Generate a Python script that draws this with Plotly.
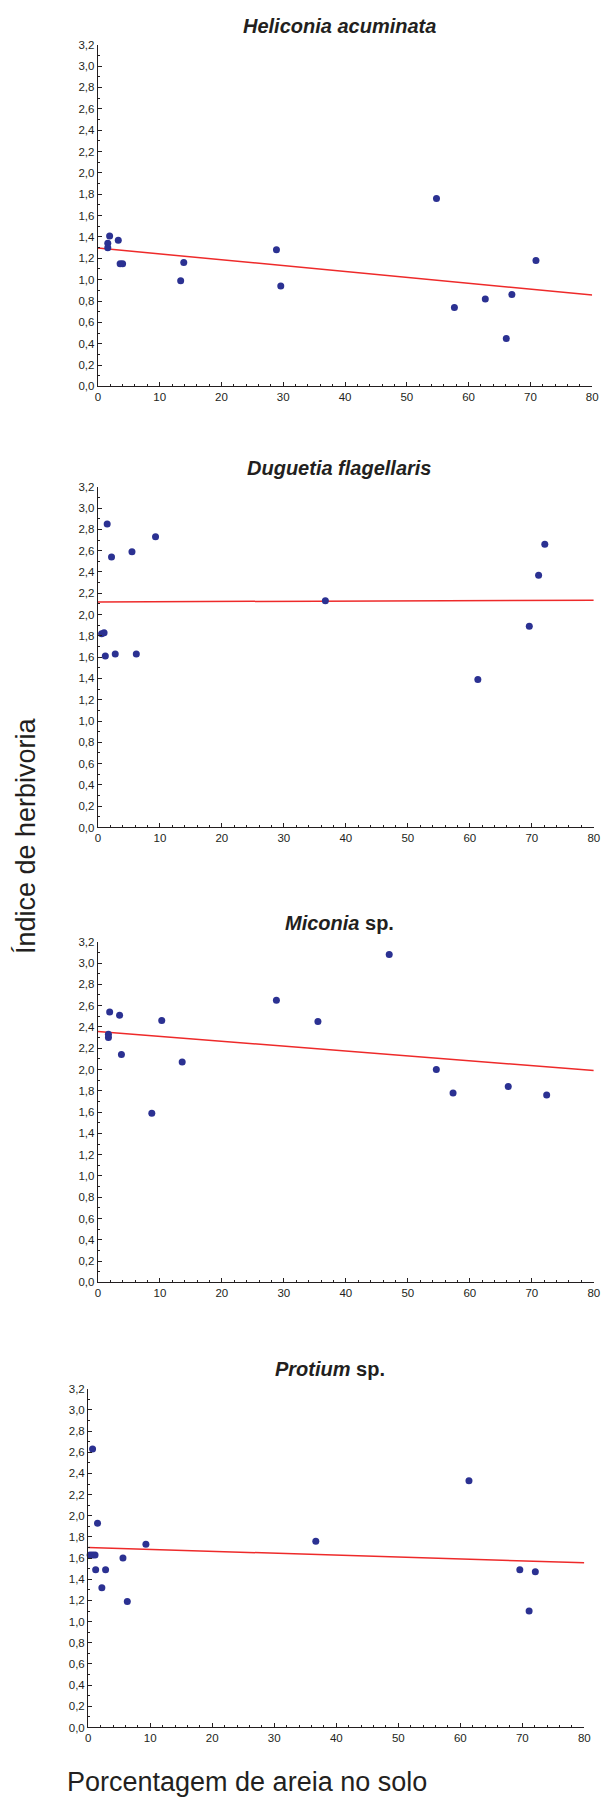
import plotly.graph_objects as go

# ---------------- data ----------------
titles = [
    "<b><i>Heliconia acuminata</i></b>",
    "<b><i>Duguetia flagellaris</i></b>",
    "<b><i>Miconia</i> sp.</b>",
    "<b><i>Protium</i> sp.</b>",
]

heliconia_x = [1.6, 1.6, 1.9, 3.3, 3.6, 4.0, 13.4, 13.9, 28.9, 29.6, 54.8, 57.7, 62.7, 66.1, 67.0, 70.9]
heliconia_y = [1.34, 1.30, 1.41, 1.37, 1.15, 1.15, 0.99, 1.16, 1.28, 0.94, 1.76, 0.74, 0.82, 0.45, 0.86, 1.18]
heliconia_fit_x = [0, 80]
heliconia_fit_y = [1.296, 0.857]

duguetia_x = [1.5, 9.3, 5.5, 2.2, 72.1, 71.1, 36.7, 69.6, 0.6, 1.0, 1.2, 2.8, 6.2, 61.3]
duguetia_y = [2.85, 2.73, 2.59, 2.54, 2.66, 2.37, 2.13, 1.89, 1.82, 1.83, 1.61, 1.63, 1.63, 1.39]
duguetia_fit_x = [0, 80]
duguetia_fit_y = [2.119, 2.134]

miconia_x = [47.0, 28.8, 1.9, 3.5, 10.3, 35.5, 1.7, 1.7, 3.8, 13.6, 54.6, 8.7, 57.3, 66.2, 72.4]
miconia_y = [3.08, 2.65, 2.54, 2.51, 2.46, 2.45, 2.33, 2.30, 2.14, 2.07, 2.00, 1.59, 1.78, 1.84, 1.76]
miconia_fit_x = [0, 80]
miconia_fit_y = [2.357, 1.990]

protium_x = [0.7, 61.4, 1.5, 9.3, 36.7, 0.3, 0.7, 1.1, 5.6, 1.2, 2.8, 2.2, 6.3, 69.6, 72.1, 71.1]
protium_y = [2.63, 2.33, 1.93, 1.73, 1.76, 1.63, 1.63, 1.63, 1.60, 1.49, 1.49, 1.32, 1.19, 1.49, 1.47, 1.10]
protium_fit_x = [0, 80]
protium_fit_y = [1.700, 1.556]

x_label = "Porcentagem de areia no solo"
y_label = "Índice de herbivoria"

panels = [
    (heliconia_x, heliconia_y, heliconia_fit_x, heliconia_fit_y),
    (duguetia_x, duguetia_y, duguetia_fit_x, duguetia_fit_y),
    (miconia_x, miconia_y, miconia_fit_x, miconia_fit_y),
    (protium_x, protium_y, protium_fit_x, protium_fit_y),
]

# ---------------- layout geometry (page pixels) ----------------
W, H = 611, 1804


def px(x):
    return x / W


def py(y):
    return 1 - y / H


# (left, right, top(3.2), bottom(0.0), title_center_y)
boxes = [
    (96.3, 598.0, 39, 383, 20),
    (96.3, 599.6, 484, 827, 465),
    (96.3, 599.6, 942, 1285, 923),
    (86.5, 590.0, 1392, 1733, 1372),
]

FONT = "Liberation Sans, Arial, sans-serif"
DARK = "#231f20"
NAVY = "#2b3192"
RED = "#ee2a2a"

fig = go.Figure()
annotations = []

for i, ((dx, dy, fx, fy), (l, r, t, b, ty)) in enumerate(zip(panels, boxes)):
    n = "" if i == 0 else str(i + 1)
    xa, ya = "x" + n, "y" + n
    fig.add_trace(go.Scatter(
        x=fx, y=fy, mode="lines", xaxis=xa, yaxis=ya,
        line=dict(color=RED, width=1.5), showlegend=False, hoverinfo="skip"))
    fig.add_trace(go.Scatter(
        x=dx, y=dy, mode="markers", xaxis=xa, yaxis=ya, cliponaxis=False,
        marker=dict(color=NAVY, size=7, line=dict(width=0)), showlegend=False))

    axis_common = dict(
        showline=True, linecolor=DARK, linewidth=1.3, mirror=False,
        showgrid=False, zeroline=False, ticks="inside", ticklen=4,
        tickcolor=DARK, tickwidth=1,
        tickfont=dict(family=FONT, size=11.5, color=DARK),
    )
    fig.layout["xaxis" + n] = dict(
        axis_common, domain=[px(l), px(r)], range=[0, 80], dtick=10,
        anchor=ya, tickformat="d",
        minor=dict(ticks="inside", ticklen=2, dtick=2, tickcolor=DARK),
    )
    fig.layout["yaxis" + n] = dict(
        axis_common, domain=[py(b), py(t)], range=[0, 3.2], dtick=0.2,
        anchor=xa, tickformat=".1f",
        minor=dict(ticks="inside", ticklen=2, dtick=0.1, tickcolor=DARK),
    )
    annotations.append(dict(
        text=titles[i], xref="paper", yref="paper",
        x=px((l + r) / 2 - 6), y=py(ty), xanchor="center", yanchor="middle",
        showarrow=False, font=dict(family=FONT, size=20, color=DARK)))

annotations.append(dict(
    text=y_label, xref="paper", yref="paper", x=px(24), y=py(835),
    xanchor="center", yanchor="middle", textangle=-90, showarrow=False,
    font=dict(family=FONT, size=27, color=DARK)))
annotations.append(dict(
    text=x_label, xref="paper", yref="paper", x=px(63), y=py(1788),
    xanchor="left", yanchor="middle", showarrow=False,
    font=dict(family=FONT, size=27, color=DARK)))

fig.update_layout(
    width=W, height=H, margin=dict(l=0, r=0, t=0, b=0),
    paper_bgcolor="white", plot_bgcolor="white",
    separators=", ", annotations=annotations,
    font=dict(family=FONT, color=DARK),
)

fig.write_html(
    "out.html",
    config={"displayModeBar": False},
    post_script="document.body.style.margin='0';"
                "document.body.style.overflow='hidden';",
)
